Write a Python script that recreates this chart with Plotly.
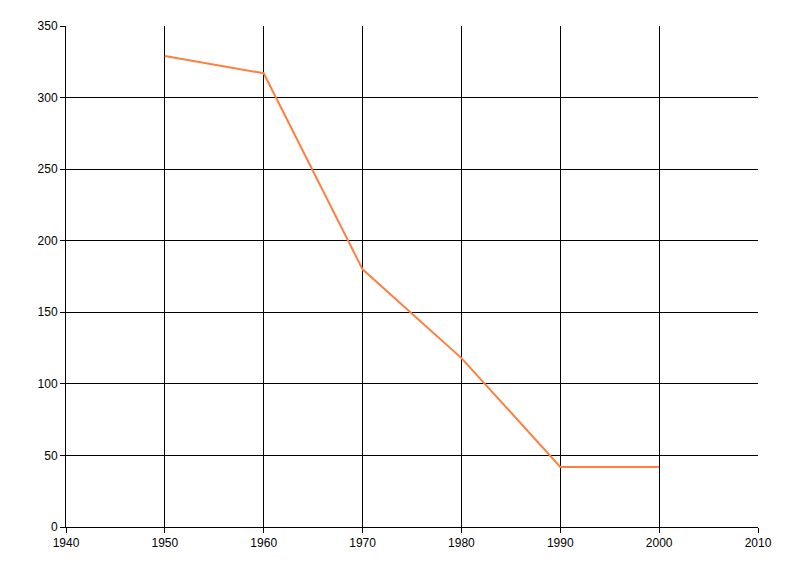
import plotly.graph_objects as go

years = [1950, 1960, 1970, 1980, 1990, 2000]
values = [329, 317, 180, 118, 42, 42]
x_ticks = [1940, 1950, 1960, 1970, 1980, 1990, 2000, 2010]
y_ticks = [0, 50, 100, 150, 200, 250, 300, 350]

fig = go.Figure()
fig.add_trace(go.Scatter(x=years, y=values, mode="lines",
                         line=dict(color="#FF7F3F", width=2)))

axis_common = dict(showgrid=True, gridcolor="black", gridwidth=1,
                   showline=True, linecolor="black", linewidth=1,
                   ticks="outside", ticklen=5, tickcolor="black",
                   tickfont=dict(family="Liberation Sans", size=12, color="black"),
                   zeroline=False)

fig.update_layout(
    width=800, height=576,
    paper_bgcolor="white", plot_bgcolor="white",
    margin=dict(l=58, r=50, t=18, b=57),
    showlegend=False,
    xaxis=dict(range=[1940, 2010], tickvals=x_ticks, **axis_common),
    yaxis=dict(range=[0, 350], tickvals=y_ticks, **axis_common),
)
fig.write_html("out.html")
